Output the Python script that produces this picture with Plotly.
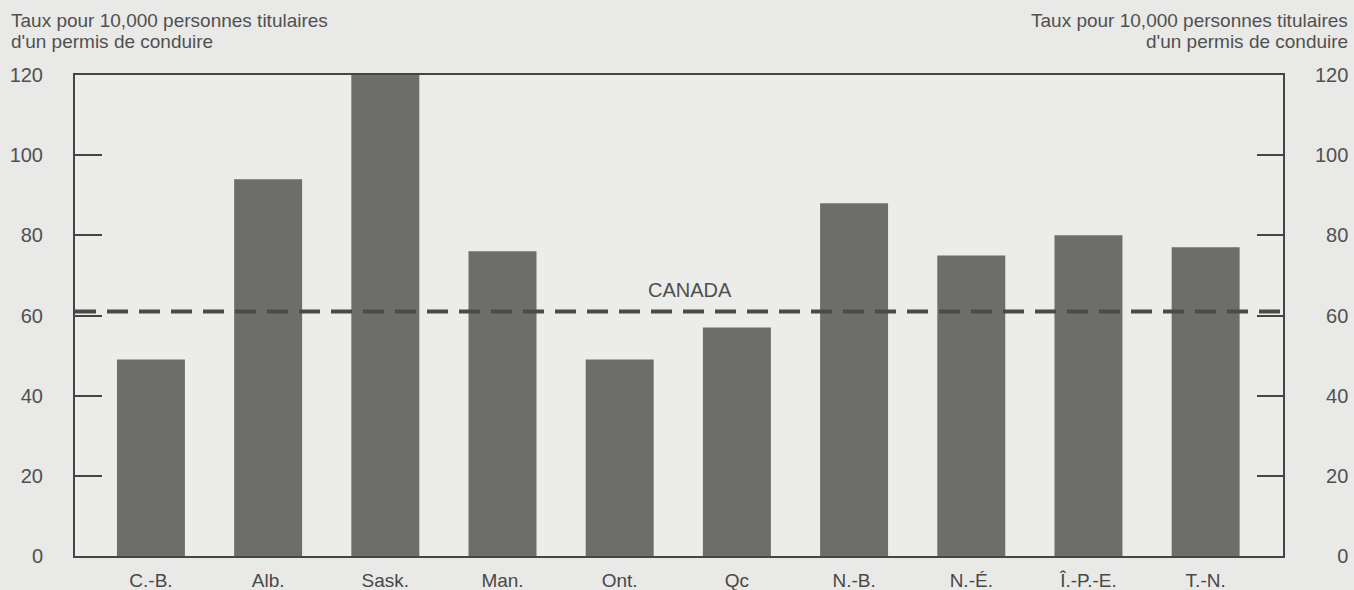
import plotly.graph_objects as go

# data
provinces = ["C.-B.", "Alb.", "Sask.", "Man.", "Ont.", "Qc", "N.-B.", "N.-É.", "Î.-P.-E.", "T.-N."]
rates = [49, 94, 120, 76, 49, 57, 88, 75, 80, 77]
canada_rate = 61
y_ticks = [0, 20, 40, 60, 80, 100, 120]
heading_lines = ["Taux pour 10,000 personnes titulaires", "d'un permis de conduire"]

text_col = "#505050"
frame_col = "#454545"
font_name = "Liberation Sans"

fig = go.Figure()

# bars
fig.add_trace(go.Bar(
    x=provinces,
    y=rates,
    width=0.58,
    marker=dict(color="#6d6d6a", line=dict(width=0)),
    showlegend=False,
))

# invisible trace to carry the right-hand axis
fig.add_trace(go.Scatter(
    x=provinces,
    y=rates,
    yaxis="y2",
    mode="markers",
    marker=dict(opacity=0),
    showlegend=False,
    hoverinfo="skip",
))

# Canada average dashed line
fig.add_shape(
    type="line", xref="paper", yref="y",
    x0=0, x1=1, y0=canada_rate, y1=canada_rate,
    line=dict(color="#4a4a48", width=4, dash="21px,11px"),
)
fig.add_annotation(
    x=4.6, y=canada_rate, xref="x", yref="y",
    text="CANADA", showarrow=False, yshift=21,
    font=dict(family=font_name, size=20, color=text_col),
)

# axis headings, one annotation per line (left and right)
for i, line in enumerate(heading_lines):
    ys = 55 - 21 * i
    fig.add_annotation(
        x=0, y=1, xref="paper", yref="paper", xanchor="left", yanchor="middle",
        xshift=-66, yshift=ys, showarrow=False, text=line,
        font=dict(family=font_name, size=19, color=text_col),
    )
    fig.add_annotation(
        x=1, y=1, xref="paper", yref="paper", xanchor="right", yanchor="middle",
        xshift=67, yshift=ys, showarrow=False, text=line,
        font=dict(family=font_name, size=19, color=text_col),
    )

# right labels padded with figure spaces so they line up on the right
right_text = ["\u2007" * (3 - len(str(v))) + str(v) for v in y_ticks]

fig.update_layout(
    width=1354, height=590,
    margin=dict(l=75, r=71, t=75, b=34),
    paper_bgcolor="#e9e9e7",
    plot_bgcolor="#ececea",
    font=dict(family=font_name, size=20, color=text_col),
    xaxis=dict(
        range=[-0.648, 9.66],
        showline=True, linecolor=frame_col, linewidth=2, mirror=True,
        ticks="outside", ticklen=6, tickcolor="rgba(0,0,0,0)",
        tickfont=dict(size=19, color="#484848"),
        showgrid=False, zeroline=False, automargin=False,
    ),
    yaxis=dict(
        range=[0, 120],
        tickvals=y_ticks,
        showline=True, linecolor=frame_col, linewidth=2, mirror=True,
        ticks="inside", ticklen=27, tickwidth=2, tickcolor=frame_col,
        ticklabelstandoff=26,
        showgrid=False, zeroline=False, automargin=False,
    ),
    yaxis2=dict(
        range=[0, 120],
        overlaying="y", side="right",
        tickvals=y_ticks, ticktext=right_text,
        ticks="inside", ticklen=26, tickwidth=2, tickcolor=frame_col,
        ticklabelstandoff=31,
        showline=False, showgrid=False, zeroline=False, automargin=False,
    ),
)

fig.write_html(
    "out.html",
    config={"displayModeBar": False},
    post_script="document.body.style.margin='0';",
)
